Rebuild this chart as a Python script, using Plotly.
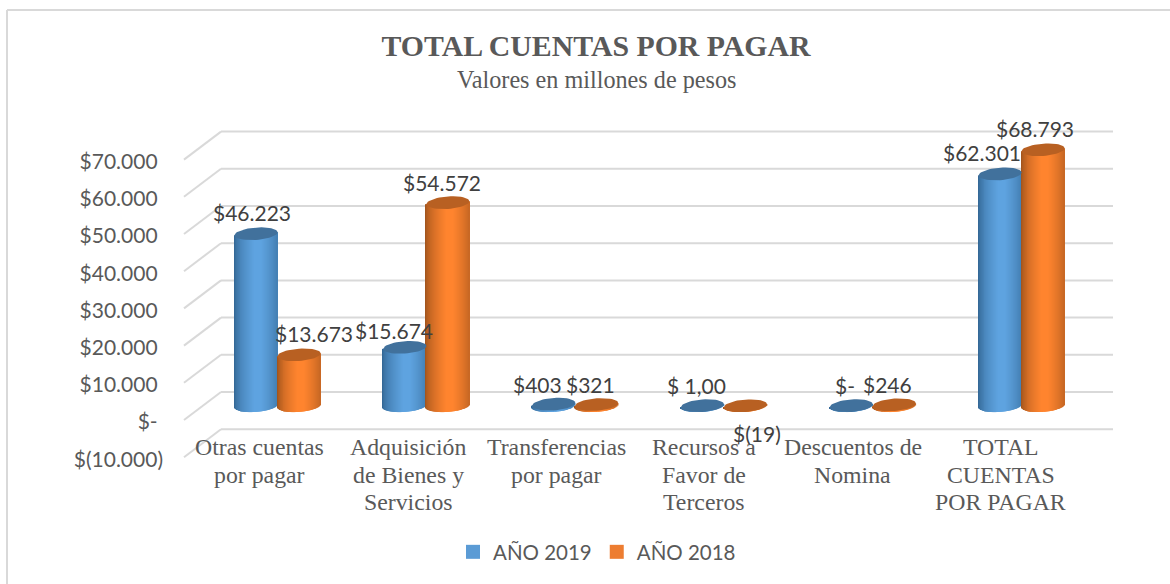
import math
import plotly.graph_objects as go

categories = ["Otras cuentas<br>por pagar", "Adquisición<br>de Bienes y<br>Servicios",
              "Transferencias<br>por pagar", "Recursos a<br>Favor de<br>Terceros",
              "Descuentos de<br>Nomina", "TOTAL<br>CUENTAS<br>POR PAGAR"]
series_names = ["AÑO 2019", "AÑO 2018"]
values_2019 = [46223, 15674, 403, 1, 0, 62301]
values_2018 = [13673, 54572, 321, -19, 246, 68793]
labels_2019 = ["$46.223", "$15.674", "$403", "$ 1,00", "$-", "$62.301"]
labels_2018 = ["$13.673", "$54.572", "$321", "$(19)", "$246", "$68.793"]
y_ticks = [-10000, 0, 10000, 20000, 30000, 40000, 50000, 60000, 70000]
y_tick_text = ["$(10.000)", "$-\u00a0", "$10.000\u00a0", "$20.000\u00a0", "$30.000\u00a0",
               "$40.000\u00a0", "$50.000\u00a0", "$60.000\u00a0", "$70.000\u00a0"]

# label nudges in pixels relative to the top of each cylinder
nudge_2019 = [(-4, 21), (-11, 17), (-16, 20), (-6, 20), (-6, 20), (-18, 21)]
nudge_2018 = [(15, 21), (-6, 20), (-6, 20), (12, -28), (-7, 20), (-8, 21)]

W, H = 1170, 584
ML = 164
PX_X = 148.8            # pixels per category
PX_Y = 37.2 / 10000     # pixels per value unit
X0_PX = 277.5           # pixel of category 0
Y0_PX = 420.0           # pixel of value 0 on the front plane

def xu(px):
    return (px - X0_PX) / PX_X

def du(px):
    return px / PX_Y

def xp(px):
    return (px - ML) / (W - ML)

def yp(px):
    return 1 - px / H

BACK = du(28)           # back wall lift
MID = du(14.3)          # cylinder axis lift
HALF_W = 21.6 / PX_X
OFF = 21.5 / PX_X
B = du(6.2)
TILT = du(3.0) / (2 * HALF_W)
GRID = "#d9d9d9"

palette = {
    0: {"edge": (46, 96, 140), "mid": (94, 163, 224), "cap": "#41719c", "swatch": "#5b9bd5"},
    1: {"edge": (150, 78, 26), "mid": (255, 132, 46), "cap": "#b86022", "swatch": "#ed7d31"},
}

def shade(pal, u):
    t = max(0.0, 1 - abs(u - 0.12) / 1.12)
    t = min(1.0, t ** 0.55 * 1.08)
    return "rgb(%d,%d,%d)" % tuple(round(e + (m - e) * t) for e, m in zip(pal["edge"], pal["mid"]))

fig = go.Figure()
N = 44
annotations = []
for s, (vals, labels, nudges) in enumerate([(values_2019, labels_2019, nudge_2019),
                                            (values_2018, labels_2018, nudge_2018)]):
    pal = palette[s]
    xs, ys, bases, colors = [], [], [], []
    for i, v in enumerate(vals):
        xc = i + (-OFF if s == 0 else OFF)
        for k in range(N):
            u = -1 + (2 * k + 1) / N
            x = xc + u * HALF_W
            tilt = TILT * u * HALF_W
            bottom = MID + tilt - B * math.sqrt(1 - u * u)
            top = v + MID + tilt
            xs.append(x)
            bases.append(bottom)
            ys.append(top - bottom)
            colors.append(shade(pal, u))
    fig.add_trace(go.Bar(x=xs, y=ys, base=bases, width=2 * HALF_W / N * 1.6,
                         marker=dict(color=colors, line_width=0),
                         showlegend=False, hoverinfo="skip"))
    for i, v in enumerate(vals):
        xc = i + (-OFF if s == 0 else OFF)
        ts = [2 * math.pi * k / 48 for k in range(49)]
        ex = [xc + HALF_W * math.cos(t) for t in ts]
        ey = [v + MID + TILT * HALF_W * math.cos(t) + B * math.sin(t) for t in ts]
        fig.add_trace(go.Scatter(x=ex, y=ey, mode="lines", fill="toself", fillcolor=pal["cap"],
                                 line=dict(width=0, color=pal["cap"]), showlegend=False, hoverinfo="skip"))
        dx, dy = nudges[i]
        annotations.append(dict(x=xc, y=v + MID, xref="x", yref="y", text=labels[i], showarrow=False,
                                xshift=dx, yshift=dy, font=dict(family="Lato", size=21, color="#404040")))

for s, name in enumerate(series_names):
    fig.add_trace(go.Scatter(x=[None], y=[None], name=name, mode="markers",
                             marker=dict(symbol="square", size=14, color=palette[s]["swatch"])))

# category labels, line by line (the reference's line pitch is tighter than Plotly's)
for i, cat in enumerate(categories):
    for j, line in enumerate(cat.split("<br>")):
        annotations.append(dict(x=xu(259.8 + 148.2 * i), xref="x", y=yp(447 + 27.5 * j), yref="paper", text=line,
                                showarrow=False, xanchor="center", yanchor="middle",
                                font=dict(family="Liberation Serif", size=23.8, color="#595959")))

annotations.append(dict(x=xp(596.5), xref="paper", y=yp(79), yref="paper", showarrow=False,
                        text="Valores en millones de pesos", xanchor="center", yanchor="middle",
                        font=dict(family="Liberation Serif", size=24.2, color="#595959")))

shapes = []
for v in y_ticks:
    shapes.append(dict(type="line", layer="below", xref="x", yref="y", x0=xu(184), x1=xu(221),
                       y0=v, y1=v + BACK, line=dict(color=GRID, width=2)))
    shapes.append(dict(type="line", layer="below", xref="x", yref="y", x0=xu(221), x1=xu(1113),
                       y0=v + BACK, y1=v + BACK, line=dict(color=GRID, width=2)))
# chart-area frame, top and left edges
shapes.append(dict(type="line", layer="below", xref="paper", yref="paper", x0=xp(7), x1=xp(W),
                   y0=yp(10), y1=yp(10), line=dict(color=GRID, width=2)))
shapes.append(dict(type="line", layer="below", xref="paper", yref="paper", x0=xp(7), x1=xp(7),
                   y0=yp(10), y1=yp(H), line=dict(color=GRID, width=2)))

fig.update_layout(
    width=W, height=H, autosize=False,
    margin=dict(l=ML, r=0, t=0, b=0),
    paper_bgcolor="white", plot_bgcolor="rgba(0,0,0,0)",
    barmode="overlay", showlegend=True, shapes=shapes, annotations=annotations,
    title=dict(text="<b>TOTAL CUENTAS POR PAGAR</b>",
               x=596 / W, xanchor="center", xref="container", y=1 - 46 / H, yanchor="middle", yref="container",
               font=dict(family="Liberation Serif", size=29.8, color="#595959")),
    legend=dict(orientation="h", x=xp(597), xanchor="center", y=yp(552), yanchor="middle",
                xref="paper", yref="paper", itemwidth=30,
                font=dict(family="Lato", size=20.5, color="#595959"), bgcolor="rgba(0,0,0,0)"),
    xaxis=dict(range=[xu(ML), xu(W)], showgrid=False, zeroline=False, showline=False, ticks="",
               showticklabels=False, automargin=False),
    yaxis=dict(range=[du(Y0_PX - H), du(Y0_PX)], showgrid=False, zeroline=False, showline=False, ticks="",
               tickmode="array", tickvals=y_ticks, ticktext=y_tick_text, automargin=False,
               ticklabelshift=2,
               tickfont=dict(family="Lato", size=21, color="#595959")),
)

fig.write_html("out.html", config={"displayModeBar": False},
               post_script="document.body.style.margin='0';document.body.style.overflow='hidden';")
